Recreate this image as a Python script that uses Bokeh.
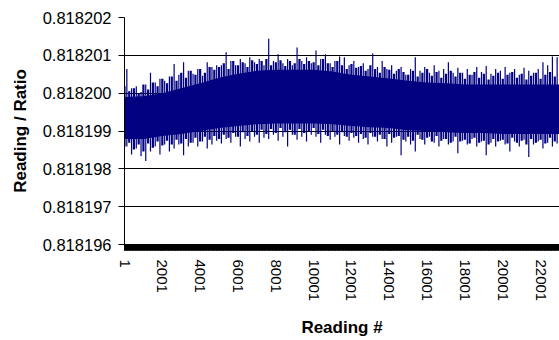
import math
from bokeh.plotting import figure
from bokeh.models import FixedTicker, Range1d, PrintfTickFormatter
from bokeh.embed import file_html
from bokeh.resources import INLINE

# ---- data ----
x_tick_values = [1, 2001, 4001, 6001, 8001, 10001, 12001, 14001, 16001, 18001, 20001, 22001]
y_tick_values = [0.818196, 0.818197, 0.818198, 0.818199, 0.818200, 0.818201, 0.818202]

# solid core of the noise band, every 1000 readings
core_reading = list(range(1, 23002, 1000))
core_hi = [0.81819990, 0.81819992, 0.81820000, 0.81820013, 0.81820026, 0.81820041,
           0.81820051, 0.81820059, 0.81820062, 0.81820062, 0.81820062, 0.81820057,
           0.81820049, 0.81820044, 0.81820039, 0.81820033, 0.81820028, 0.81820026,
           0.81820023, 0.81820023, 0.81820023, 0.81820023, 0.81820023, 0.81820023]
core_lo = [0.81819879, 0.81819879, 0.81819887, 0.81819892, 0.81819900, 0.81819908,
           0.81819913, 0.81819918, 0.81819920, 0.81819920, 0.81819920, 0.81819918,
           0.81819913, 0.81819910, 0.81819908, 0.81819902, 0.81819900, 0.81819897,
           0.81819895, 0.81819895, 0.81819892, 0.81819892, 0.81819892, 0.81819892]

# extreme readings (peaks and dips), every 250 readings
tip_reading = list(range(125, 23000, 250))
tip_hi = [0.81820064, 0.81820013, 0.81820018, 0.81820003, 0.81820023, 0.81820054, 0.81820028, 0.81820038, 0.81820033, 0.81820044,
          0.81820077, 0.81820049, 0.81820082, 0.81820059, 0.81820051, 0.81820064, 0.81820046, 0.81820082, 0.81820069, 0.81820074,
          0.81820074, 0.81820108, 0.81820085, 0.81820074, 0.81820090, 0.81820079, 0.81820095, 0.81820082, 0.81820090, 0.81820074,
          0.81820144, 0.81820085, 0.81820103, 0.81820079, 0.81820090, 0.81820074, 0.81820121, 0.81820085, 0.81820095, 0.81820079,
          0.81820113, 0.81820090, 0.81820103, 0.81820079, 0.81820085, 0.81820097, 0.81820095, 0.81820074, 0.81820085, 0.81820069,
          0.81820079, 0.81820064, 0.81820105, 0.81820069, 0.81820085, 0.81820064, 0.81820074, 0.81820059, 0.81820069, 0.81820049,
          0.81820064, 0.81820095, 0.81820059, 0.81820069, 0.81820054, 0.81820074, 0.81820059, 0.81820064, 0.81820082, 0.81820054,
          0.81820067, 0.81820054, 0.81820064, 0.81820049, 0.81820069, 0.81820056, 0.81820072, 0.81820051, 0.81820064, 0.81820059,
          0.81820069, 0.81820054, 0.81820064, 0.81820049, 0.81820067, 0.81820059, 0.81820054, 0.81820064, 0.81820082, 0.81820074,
          0.81820097, 0.81820095]
tip_lo = [0.81819859, 0.81819838, 0.81819854, 0.81819833, 0.81819821, 0.81819846, 0.81819859, 0.81819838, 0.81819864, 0.81819846,
          0.81819854, 0.81819864, 0.81819836, 0.81819859, 0.81819869, 0.81819859, 0.81819872, 0.81819854, 0.81819864, 0.81819874,
          0.81819867, 0.81819879, 0.81819869, 0.81819885, 0.81819859, 0.81819879, 0.81819872, 0.81819885, 0.81819869, 0.81819882,
          0.81819879, 0.81819890, 0.81819874, 0.81819885, 0.81819859, 0.81819890, 0.81819877, 0.81819885, 0.81819872, 0.81819890,
          0.81819885, 0.81819869, 0.81819890, 0.81819877, 0.81819885, 0.81819864, 0.81819887, 0.81819874, 0.81819882, 0.81819869,
          0.81819879, 0.81819864, 0.81819885, 0.81819872, 0.81819879, 0.81819859, 0.81819869, 0.81819885, 0.81819836, 0.81819872,
          0.81819864, 0.81819846, 0.81819879, 0.81819864, 0.81819885, 0.81819869, 0.81819859, 0.81819879, 0.81819864, 0.81819872,
          0.81819841, 0.81819874, 0.81819864, 0.81819879, 0.81819859, 0.81819872, 0.81819836, 0.81819869, 0.81819859, 0.81819874,
          0.81819864, 0.81819846, 0.81819872, 0.81819859, 0.81819877, 0.81819831, 0.81819864, 0.81819872, 0.81819854, 0.81819869,
          0.81819859, 0.81819867]

# moderate excursions in between, every 250 readings
mid_reading = list(range(1, 23000, 250))
mid_hi = [0.81820018, 0.81820005, 0.81820013, 0.81820000, 0.81820023, 0.81820010, 0.81820028, 0.81820018, 0.81820038, 0.81820026,
          0.81820044, 0.81820033, 0.81820054, 0.81820041, 0.81820059, 0.81820049, 0.81820064, 0.81820054, 0.81820069, 0.81820062,
          0.81820069, 0.81820079, 0.81820064, 0.81820085, 0.81820074, 0.81820082, 0.81820069, 0.81820087, 0.81820077, 0.81820085,
          0.81820090, 0.81820074, 0.81820082, 0.81820087, 0.81820072, 0.81820085, 0.81820079, 0.81820090, 0.81820077, 0.81820085,
          0.81820082, 0.81820074, 0.81820090, 0.81820079, 0.81820069, 0.81820085, 0.81820074, 0.81820064, 0.81820077, 0.81820067,
          0.81820072, 0.81820059, 0.81820074, 0.81820064, 0.81820054, 0.81820069, 0.81820062, 0.81820051, 0.81820064, 0.81820056,
          0.81820049, 0.81820059, 0.81820044, 0.81820054, 0.81820064, 0.81820046, 0.81820056, 0.81820041, 0.81820051, 0.81820059,
          0.81820044, 0.81820054, 0.81820038, 0.81820049, 0.81820056, 0.81820041, 0.81820051, 0.81820036, 0.81820046, 0.81820054,
          0.81820038, 0.81820049, 0.81820056, 0.81820041, 0.81820051, 0.81820036, 0.81820046, 0.81820054, 0.81820038, 0.81820049,
          0.81820056, 0.81820044]
mid_lo = [0.81819859, 0.81819869, 0.81819851, 0.81819864, 0.81819846, 0.81819867, 0.81819856, 0.81819872, 0.81819862, 0.81819874,
          0.81819864, 0.81819877, 0.81819867, 0.81819879, 0.81819869, 0.81819882, 0.81819872, 0.81819885, 0.81819877, 0.81819887,
          0.81819879, 0.81819890, 0.81819882, 0.81819895, 0.81819885, 0.81819897, 0.81819887, 0.81819900, 0.81819890, 0.81819903,
          0.81819892, 0.81819905, 0.81819895, 0.81819908, 0.81819897, 0.81819903, 0.81819890, 0.81819905, 0.81819895, 0.81819900,
          0.81819908, 0.81819892, 0.81819903, 0.81819887, 0.81819900, 0.81819890, 0.81819897, 0.81819885, 0.81819895, 0.81819887,
          0.81819892, 0.81819882, 0.81819895, 0.81819885, 0.81819890, 0.81819879, 0.81819892, 0.81819882, 0.81819887, 0.81819877,
          0.81819885, 0.81819874, 0.81819890, 0.81819877, 0.81819882, 0.81819872, 0.81819887, 0.81819874, 0.81819879, 0.81819869,
          0.81819885, 0.81819872, 0.81819877, 0.81819867, 0.81819882, 0.81819869, 0.81819874, 0.81819864, 0.81819879, 0.81819872,
          0.81819877, 0.81819867, 0.81819882, 0.81819869, 0.81819874, 0.81819864, 0.81819879, 0.81819869, 0.81819877, 0.81819867,
          0.81819882, 0.81819872]

NAVY = "#000080"
FONT = "Liberation Sans"

p = figure(width=559, height=340, output_backend="svg", toolbar_location=None,
           x_range=Range1d(1, 23000), y_range=Range1d(0.818196, 0.818202),
           min_border_left=124, min_border_right=0, min_border_top=17, min_border_bottom=89)
p.outline_line_color = None
p.background_fill_color = "white"
p.border_fill_color = "white"

# data
p.varea(x=core_reading, y1=core_lo, y2=core_hi, fill_color=NAVY)
p.segment(x0=mid_reading, y0=mid_lo, x1=mid_reading, y1=mid_hi, line_color=NAVY, line_width=2.2)
p.segment(x0=tip_reading, y0=tip_lo, x1=tip_reading, y1=tip_hi, line_color=NAVY, line_width=1.2)

# grid
p.xgrid.grid_line_color = None
p.ygrid.grid_line_color = "#000000"
p.ygrid.grid_line_width = 1

# y axis
ya = p.yaxis[0]
ya.ticker = FixedTicker(ticks=y_tick_values, minor_ticks=[])
ya.formatter = PrintfTickFormatter(format="%.6f")
ya.axis_label = "Reading / Ratio"
ya.axis_label_text_font = FONT
ya.axis_label_text_font_style = "bold"
ya.axis_label_text_font_size = "17px"
ya.axis_label_text_color = "#000000"
ya.axis_label_standoff = 10
ya.major_label_text_font = FONT
ya.major_label_text_font_size = "16.5px"
ya.major_label_text_color = "#000000"
ya.major_label_standoff = 7
ya.major_tick_out = 6
ya.major_tick_in = 0
ya.major_tick_line_color = "#000000"
ya.axis_line_color = "#000000"
ya.minor_tick_line_color = None

# x axis with a tick mark for every reading (renders as solid bar)
xa = p.xaxis[0]
xa.ticker = FixedTicker(ticks=x_tick_values, minor_ticks=list(range(1, 23001, 20)))
xa.formatter = PrintfTickFormatter(format="%d")
xa.axis_label = "Reading #"
xa.axis_label_text_font = FONT
xa.axis_label_text_font_style = "bold"
xa.axis_label_text_font_size = "17px"
xa.axis_label_text_color = "#000000"
xa.axis_label_standoff = 14
xa.major_label_text_font = FONT
xa.major_label_text_font_size = "15px"
xa.major_label_text_color = "#000000"
xa.major_label_orientation = -math.pi / 2
xa.major_label_standoff = 9
xa.major_tick_out = 6
xa.major_tick_in = 0
xa.minor_tick_out = 6
xa.minor_tick_in = 0
xa.minor_tick_line_color = "#000000"
xa.minor_tick_line_width = 1
xa.major_tick_line_color = "#000000"
xa.axis_line_color = "#000000"

open("out.html", "w").write(file_html(p, INLINE))
